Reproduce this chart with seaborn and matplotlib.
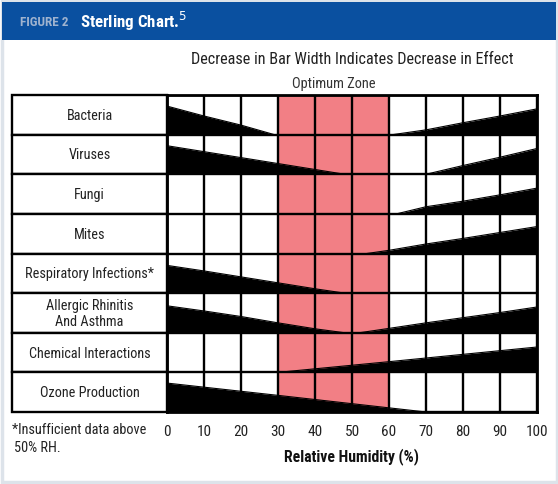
import matplotlib
matplotlib.use("Agg")
import matplotlib.pyplot as plt
from matplotlib.patches import Rectangle
import numpy as np
import pandas as pd
import seaborn as sns

# ---------------- data ----------------
categories = ["Bacteria", "Viruses", "Fungi", "Mites", "Respiratory Infections*",
              "Allergic Rhinitis\nAnd Asthma", "Chemical Interactions", "Ozone Production"]
rh_ticks = [0, 10, 20, 30, 40, 50, 60, 70, 80, 90, 100]
optimum_zone = [30, 60]

# each wedge: relative humidity points and relative bar width (fraction of row height)
bacteria_low_rh = [0, 10, 20, 29]
bacteria_low_w = [0.72, 0.47, 0.24, 0.0]
bacteria_high_rh = [61, 70, 80, 90, 100]
bacteria_high_w = [0.0, 0.12, 0.30, 0.47, 0.65]
viruses_low_rh = [0, 10, 20, 30, 40, 48]
viruses_low_w = [0.72, 0.57, 0.42, 0.27, 0.12, 0.0]
viruses_high_rh = [70, 80, 90, 100]
viruses_high_w = [0.0, 0.22, 0.43, 0.65]
fungi_high_rh = [62, 70, 80, 90, 100]
fungi_high_w = [0.0, 0.18, 0.32, 0.48, 0.65]
mites_high_rh = [54, 60, 70, 80, 90, 100]
mites_high_w = [0.0, 0.08, 0.24, 0.38, 0.53, 0.68]
resp_low_rh = [0, 10, 20, 30, 40, 48]
resp_low_w = [0.70, 0.56, 0.41, 0.26, 0.11, 0.0]
allergic_low_rh = [0, 10, 20, 30, 40, 48]
allergic_low_w = [0.68, 0.55, 0.41, 0.25, 0.10, 0.0]
allergic_high_rh = [52, 60, 70, 80, 90, 100]
allergic_high_w = [0.0, 0.11, 0.25, 0.38, 0.51, 0.65]
chemical_high_rh = [30, 60, 100]
chemical_high_w = [0.0, 0.27, 0.64]
ozone_low_rh = [0, 30, 70]
ozone_low_w = [0.73, 0.42, 0.0]

wedges = [
    (0, bacteria_low_rh, bacteria_low_w), (0, bacteria_high_rh, bacteria_high_w),
    (1, viruses_low_rh, viruses_low_w), (1, viruses_high_rh, viruses_high_w),
    (2, fungi_high_rh, fungi_high_w),
    (3, mites_high_rh, mites_high_w),
    (4, resp_low_rh, resp_low_w),
    (5, allergic_low_rh, allergic_low_w), (5, allergic_high_rh, allergic_high_w),
    (6, chemical_high_rh, chemical_high_w),
    (7, ozone_low_rh, ozone_low_w),
]

rows = []
for k, (r, xs, ws) in enumerate(wedges):
    for x, w in zip(xs, ws):
        rows.append({"wedge": k, "row": r, "rh": x, "width": w, "top": r + 1 - w})
df = pd.DataFrame(rows)

# ---------------- figure ----------------
sns.set_theme(style="white")
FONT = ["Roboto Condensed", "Liberation Sans Narrow", "Liberation Sans", "DejaVu Sans"]
plt.rcParams["font.family"] = FONT
TXT = "#222222"

W, H = 558, 485
fig = plt.figure(figsize=(W / 100, H / 100), dpi=100)
fig.patch.set_facecolor("white")

# outer frame and header band
bg = fig.add_axes([0, 0, 1, 1])
bg.set_xlim(0, W)
bg.set_ylim(H, 0)
bg.axis("off")
bg.add_patch(Rectangle((1.5, 1.5), W - 3, H - 4, facecolor="white", edgecolor="#dde3ea", lw=2.5))
bg.add_patch(Rectangle((2, 3), W - 4, 38, facecolor="#0a50a0", edgecolor="none"))
bg.text(20, 22, "FIGURE 2", color="#9fb3cf", fontsize=9.5, fontweight="bold", va="center", ha="left")
bg.text(80, 21, "Sterling Chart.$^{5}$", color="white", fontsize=12.2, fontweight="bold",
        va="center", ha="left")
bg.text(352, 60, "Decrease in Bar Width Indicates Decrease in Effect", color=TXT,
        fontsize=11.7, ha="center", va="center")
bg.text(12, 430, "*Insufficient data above", color=TXT, fontsize=10.3, ha="left", va="center")
bg.text(14, 448, "50% RH.", color=TXT, fontsize=10.3, ha="left", va="center")

# main grid axes
x0, x1, y0, y1 = 167, 537, 96, 413
ax = fig.add_axes([x0 / W, 1 - y1 / H, (x1 - x0) / W, (y1 - y0) / H])
n = len(categories)
ax.set_xlim(0, 100)
ax.set_ylim(n, 0)
ax.set_facecolor("white")

ax.axvspan(optimum_zone[0], optimum_zone[1], color="#f27f85", lw=0, zorder=1)

for k, g in df.groupby("wedge"):
    ax.fill_between(g["rh"], g["top"], g["row"] + 1, color="black", lw=0, zorder=2)
sns.lineplot(data=df, x="rh", y="top", units="wedge", estimator=None, color="black",
             lw=0.8, ax=ax, zorder=3, legend=False)

for t in rh_ticks:
    ax.axvline(t, color="black", lw=1.7, zorder=4)
for r in range(n + 1):
    ax.axhline(r, color="black", lw=1.7, zorder=4)
for s in ax.spines.values():
    s.set_visible(True)
    s.set_color("black")
    s.set_linewidth(2)
    s.set_zorder(5)

ax.set_xticks(rh_ticks)
ax.set_xticklabels([str(t) for t in rh_ticks], fontsize=11, color=TXT)
ax.tick_params(axis="x", length=0, pad=9)
ax.set_yticks([])
ax.set_xlabel("Relative Humidity (%)", fontsize=11.3, color="#111111", labelpad=6,
              fontweight="bold")
ax.set_ylabel("")
ax.text(45, -0.3, "Optimum Zone", ha="center", va="center", fontsize=10.4, color="#333333")

# category label boxes
left = -(x0 - 12) / 3.7
for i, c in enumerate(categories):
    ax.add_patch(Rectangle((left, i), -left, 1, facecolor="white", edgecolor="black",
                           lw=1.7, clip_on=False, zorder=4))
    ax.text(left / 2, i + 0.5, c, ha="center", va="center", fontsize=10.3, color=TXT,
            clip_on=False, linespacing=1.15, zorder=6)

fig.savefig("out.png", dpi=100)
